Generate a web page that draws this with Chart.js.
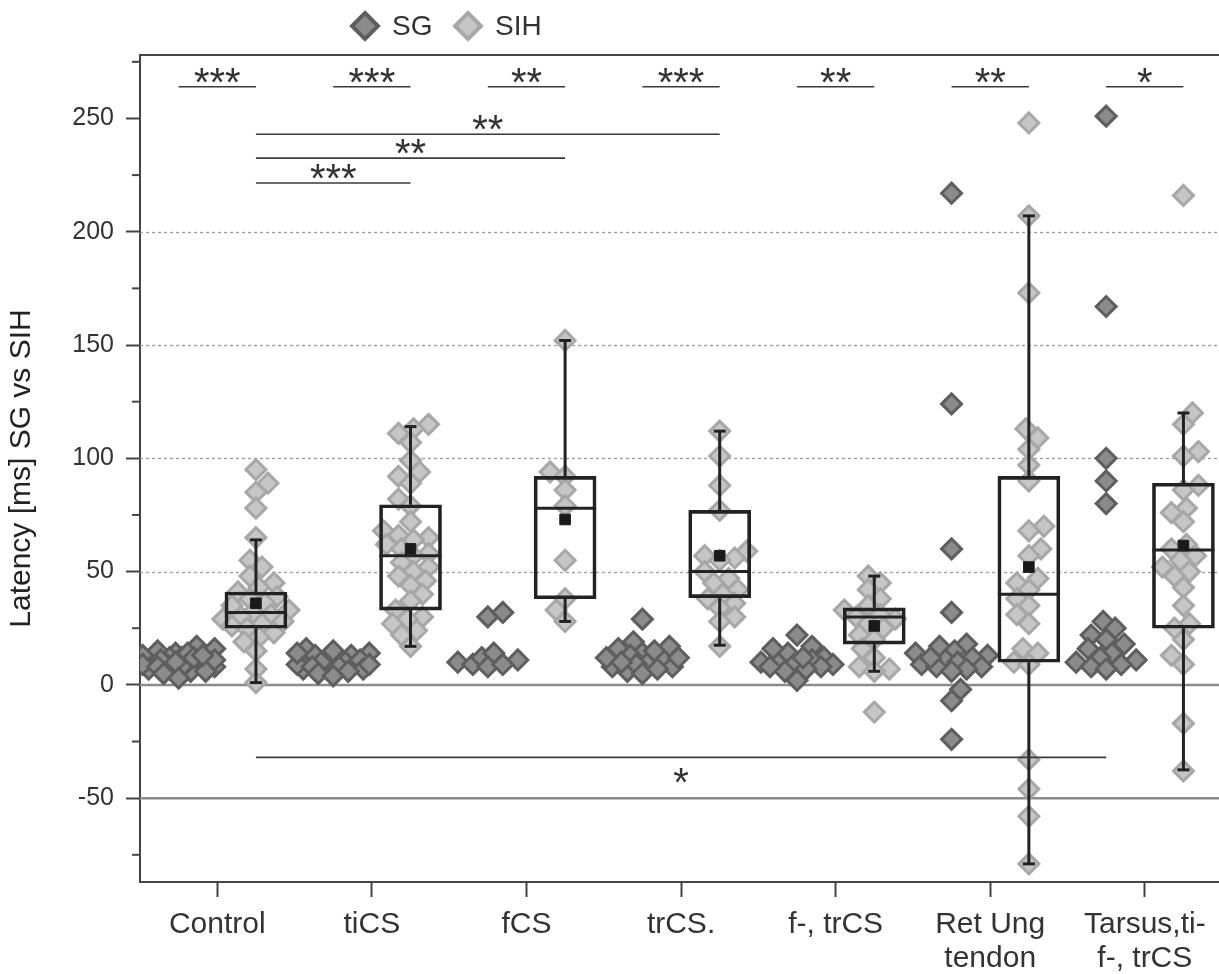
<!DOCTYPE html>
<html>
<head>
<meta charset="utf-8">
<script src="https://cdn.jsdelivr.net/npm/chart.js@4.4.1/dist/chart.umd.min.js"></script>
<style>
html,body{margin:0;padding:0;background:#fff;overflow:hidden;width:1219px;height:974px;}
#wrap{width:1219px;height:974px;position:relative;overflow:hidden;}
canvas{display:block;}
</style>
</head>
<body>
<div id="wrap"><canvas id="c"></canvas></div>
<script>
// ---------- data ----------
const categories = [['Control'], ['tiCS'], ['fCS'], ['trCS.'], ['f-, trCS'], ['Ret Ung', 'tendon'], ['Tarsus,ti-', 'f-, trCS']];
const seriesNames = ['SG', 'SIH'];

const sgControl = [14, 17, 12, 9, 7, 11, 15, 10, 8, 13, 16, 6, 12, 9, 11, 10, 7, 14, 8, 12, 9, 6, 11, 13, 8, 10, 5, 3];
const sgTiCS    = [8, 10, 7, 9, 12, 11, 13, 14, 16, 10, 9, 8, 12, 15, 11, 13, 7, 9, 14, 6, 10, 8, 5, 4];
const sgFCS     = [10, 9, 30, 32, 12, 11, 14, 8, 9];
const sgTrCS    = [8, 12, 19, 29, 16, 14, 10, 6, 17, 13, 9, 11, 15, 8, 5, 12, 10, 7];
const sgFTrCS   = [17, 22, 12, 10, 9, 14, 11, 8, 16, 9, 10, 7, 12, 6, 8, 2];
const sgRetUng  = [217, 124, 60, 32, 18, 17, 15, 14, 13, 12, 11, 10, 9, 8, 8, 7, 6, 12, -2, -7, -24];
const sgTarsus  = [251, 167, 100, 90, 80, 28, 25, 22, 20, 18, 16, 14, 12, 11, 10, 9, 8, 7];

const sihControl = [95, 89, 85, 78, 65, 55, 52, 48, 45, 43, 41, 39, 38, 36, 35, 33, 32, 31, 30, 29, 28, 27, 26, 25, 23, 21, 19, 15, 7, 1];
const sihTiCS    = [115, 113, 111, 107, 99, 94, 92, 89, 82, 79, 72, 68, 66, 65, 64, 62, 60, 58, 57, 54, 52, 50, 48, 46, 44, 40, 37, 33, 30, 29, 27, 24, 22, 17];
const sihFCS     = [152, 94, 92, 86, 79, 55, 38, 33, 28];
const sihTrCS    = [112, 101, 88, 77, 59, 57, 56, 55, 50, 47, 45, 42, 40, 38, 36, 34, 30, 28, 17];
const sihFTrCS   = [48, 45, 42, 38, 35, 33, 31, 30, 29, 27, 25, 22, 20, 16, 12, 8, 7, 6, -12];
const sihRetUng  = [248, 207, 173, 113, 109, 104, 97, 90, 70, 68, 60, 57, 47, 45, 42, 38, 35, 31, 27, 16, 14, 10, 9, -33, -46, -58, -79];
const sihTarsus  = [216, 120, 115, 103, 101, 88, 86, 78, 76, 72, 62, 60, 57, 55, 52, 50, 48, 43, 35, 27, 25, 20, 13, 9, -17, -38];

const sgGroups  = [sgControl, sgTiCS, sgFCS, sgTrCS, sgFTrCS, sgRetUng, sgTarsus];
const sihGroups = [sihControl, sihTiCS, sihFCS, sihTrCS, sihFTrCS, sihRetUng, sihTarsus];

// SIH box plot statistics
const boxQ1       = [25, 33, 38, 38.5, 18, 10, 25];
const boxMedian   = [32, 57, 78, 50, 30, 40, 59.5];
const boxQ3       = [41, 79.5, 92, 77, 34, 92, 89];
const whiskerLow  = [1, 17, 28, 17.5, 6, -79, -37.5];
const whiskerHigh = [64, 114, 152, 112, 48, 207, 120];
const boxMeans    = [36, 60, 73, 57, 26, 52, 61.5];

// significance annotations (x in category units, y in ms)
const sigFrom  = [-0.25, 0.75, 1.75, 2.75, 3.75, 4.75, 5.75, 0.25, 0.25, 0.25, 0.25];
const sigTo    = [0.25, 1.25, 2.25, 3.25, 4.25, 5.25, 6.25, 3.25, 2.25, 1.25, 5.75];
const sigY     = [264, 264, 264, 264, 264, 264, 264, 243, 232.5, 221.5, -32];
const sigLabel = ['***', '***', '**', '***', '**', '**', '*', '**', '**', '***', '*'];
const sigBelow = [false, false, false, false, false, false, false, false, false, false, true];

// y axis ticks / reference lines
const yTicks = [-75, -50, -25, 0, 25, 50, 75, 100, 125, 150, 175, 200, 225, 250, 275];
const yLabelled = [-50, 0, 50, 100, 150, 200, 250];
const dottedGrid = [50, 100, 150, 200];
const solidRefLines = [0, -50];

// ---------- styles ----------
const FONT = '"Liberation Sans", Arial, Helvetica, sans-serif';
const SG_FILL = '#8b8b8b', SG_EDGE = '#5e5e5e';
const SIH_FILL = '#c6c6c6', SIH_EDGE = '#a7a7a7';
const INK = '#222';
const SG_OFF = -0.25, SIH_OFF = 0.25;
const STAR = 40;

Chart.defaults.font.family = FONT;
Chart.defaults.color = '#333';

const sgData = [];
sgGroups.forEach((g, i) => g.forEach(v => sgData.push({x: i + SG_OFF, y: v})));
const sihData = [];
sihGroups.forEach((g, i) => g.forEach(v => sihData.push({x: i + SIH_OFF, y: v})));

function diamond(ctx, x, y, r) {
  ctx.beginPath();
  ctx.moveTo(x, y - r); ctx.lineTo(x + r, y); ctx.lineTo(x, y + r); ctx.lineTo(x - r, y); ctx.closePath();
}

const drawPlugin = {
  id: 'boxExtras',
  beforeDatasetsDraw(chart) {
    const {ctx, chartArea: a, scales: {y}} = chart;
    ctx.save();
    ctx.strokeStyle = '#9a9a9a'; ctx.lineWidth = 1.3; ctx.setLineDash([3, 3]);
    dottedGrid.forEach(v => { const py = Math.round(y.getPixelForValue(v)) + 0.5; ctx.beginPath(); ctx.moveTo(a.left, py); ctx.lineTo(a.right, py); ctx.stroke(); });
    ctx.setLineDash([]);
    ctx.strokeStyle = '#8a8a8a'; ctx.lineWidth = 2.5;
    solidRefLines.forEach(v => { const py = y.getPixelForValue(v); ctx.beginPath(); ctx.moveTo(a.left, py); ctx.lineTo(a.right, py); ctx.stroke(); });
    ctx.strokeStyle = '#444'; ctx.lineWidth = 2;
    ctx.beginPath(); ctx.moveTo(a.left, a.top); ctx.lineTo(a.right, a.top); ctx.stroke();
    yTicks.filter(v => !yLabelled.includes(v)).forEach(v => { const py = y.getPixelForValue(v); ctx.beginPath(); ctx.moveTo(a.left - 8, py); ctx.lineTo(a.left, py); ctx.stroke(); });
    ctx.restore();
  },
  afterDatasetDraw(chart, args) {
    if (args.meta.type !== 'bar') return;
    const {ctx, scales: {x, y}} = chart;
    ctx.save();
    ctx.strokeStyle = INK; ctx.lineWidth = 3;
    args.meta.data.forEach((bar, i) => {
      const cx = x.getPixelForValue(i + SIH_OFF);
      const hw = bar.width / 2;
      const pm = y.getPixelForValue(boxMedian[i]);
      ctx.beginPath(); ctx.moveTo(cx - hw, pm); ctx.lineTo(cx + hw, pm); ctx.stroke();
      [[boxQ3[i], whiskerHigh[i]], [boxQ1[i], whiskerLow[i]]].forEach(([from, to]) => {
        const p1 = y.getPixelForValue(from), p2 = y.getPixelForValue(to);
        ctx.beginPath(); ctx.moveTo(cx, p1); ctx.lineTo(cx, p2); ctx.stroke();
        ctx.beginPath(); ctx.moveTo(cx - 6, p2); ctx.lineTo(cx + 6, p2); ctx.stroke();
      });
    });
    ctx.restore();
  },
  afterDatasetsDraw(chart) {
    const {ctx, scales: {x, y}} = chart;
    ctx.save();
    ctx.strokeStyle = '#3a3a3a'; ctx.fillStyle = '#333'; ctx.lineWidth = 1.6;
    ctx.font = STAR + 'px ' + FONT; ctx.textAlign = 'center'; ctx.textBaseline = 'alphabetic';
    sigFrom.forEach((f, i) => {
      const x1 = x.getPixelForValue(f), x2 = x.getPixelForValue(sigTo[i]);
      const py = y.getPixelForValue(sigY[i]);
      ctx.beginPath(); ctx.moveTo(x1, py); ctx.lineTo(x2, py); ctx.stroke();
      const base = sigBelow[i] ? py + 20 + 0.47 * STAR : py - 10 + 0.47 * STAR;
      ctx.fillText(sigLabel[i], (x1 + x2) / 2, base);
    });
    ctx.restore();
  },
  afterDraw(chart) {
    const {ctx} = chart;
    ctx.save();
    ctx.font = '28px ' + FONT; ctx.textBaseline = 'middle'; ctx.textAlign = 'left';
    const items = [[365, SG_FILL, SG_EDGE, seriesNames[0]], [468, SIH_FILL, SIH_EDGE, seriesNames[1]]];
    items.forEach(([cx, fill, edge, label]) => {
      diamond(ctx, cx, 26, 13);
      ctx.fillStyle = fill; ctx.fill();
      ctx.lineWidth = 4; ctx.strokeStyle = edge; ctx.stroke();
      ctx.fillStyle = '#333';
      ctx.fillText(label, cx + 27, 27);
    });
    ctx.restore();
  }
};

const chart = new Chart(document.getElementById('c'), {
  type: 'scatter',
  data: {
    datasets: [
      {label: 'SG', data: sgData, pointStyle: 'rectRot', pointRadius: 10, pointBorderWidth: 3,
       backgroundColor: SG_FILL, borderColor: SG_EDGE, order: 3},
      {label: 'SIH', data: sihData, pointStyle: 'rectRot', pointRadius: 10, pointBorderWidth: 3,
       backgroundColor: SIH_FILL, borderColor: SIH_EDGE, order: 2},
      {type: 'bar', label: 'box', data: boxQ1.map((q, i) => ({x: i + SIH_OFF, y: [q, boxQ3[i]]})),
       backgroundColor: 'rgba(0,0,0,0)', borderColor: INK, borderWidth: 3, borderSkipped: false,
       barThickness: 62, order: 1},
      {label: 'mean', data: boxMeans.map((m, i) => ({x: i + SIH_OFF, y: m})), pointStyle: 'rect',
       pointRadius: 7.5, pointBorderWidth: 1, backgroundColor: '#1a1a1a', borderColor: '#1a1a1a', order: 0}
    ]
  },
  options: {
    responsive: true, maintainAspectRatio: false, animation: false, devicePixelRatio: 1,
    layout: {autoPadding: false, padding: {top: 55, right: 0, left: 0, bottom: 0}},
    plugins: {legend: {display: false}, tooltip: {enabled: false}},
    events: [],
    scales: {
      x: {
        type: 'linear', position: 'bottom', min: -0.5, max: 6.48, offset: false,
        afterBuildTicks: s => { s.ticks = categories.map((c, i) => ({value: i})); },
        afterFit: s => { s.height = 92; s.paddingLeft = 0; s.paddingRight = 0; },
        ticks: {autoSkip: false, maxRotation: 0, padding: 10, color: '#333',
                font: {size: 30, lineHeight: 1.16},
                callback: (v, i) => categories[i]},
        grid: {offset: false, drawOnChartArea: false, drawTicks: true, tickLength: 15, tickColor: '#444', tickWidth: 2},
        border: {color: '#444', width: 2}
      },
      y: {
        type: 'linear', min: -87, max: 278,
        afterBuildTicks: s => { s.ticks = yTicks.map(v => ({value: v})); },
        afterFit: s => { s.width = 140; },
        ticks: {autoSkip: false, padding: 12, color: '#333', font: {size: 25},
                callback: v => (yLabelled.includes(v) ? String(v) : '')},
        grid: {drawOnChartArea: false, drawTicks: true, tickLength: 14, tickWidth: 2,
               tickColor: c => (c.tick && yLabelled.includes(c.tick.value) ? '#444' : 'rgba(0,0,0,0)')},
        border: {color: '#444', width: 2},
        title: {display: true, text: 'Latency [ms] SG vs SIH', color: '#222', font: {size: 30}, padding: {top: 4, bottom: 0}}
      }
    }
  },
  plugins: [drawPlugin]
});

// beeswarm-style horizontal spreading of the diamonds (layout only)
function swarm(values, maxSpread) {
  const yS = chart.scales.y;
  const py = values.map(v => yS.getPixelForValue(v));
  const idx = values.map((_, i) => i).sort((a, b) => values[a] - values[b]);
  const placed = [], off = new Array(values.length).fill(0);
  const step = 3, minD = 13;
  let flip = 1;
  idx.forEach(i => {
    let bestOff = 0, bestScore = -1;
    const n = Math.floor(maxSpread / step) * 2;
    for (let k = 0; k <= n; k++) {
      const m = Math.ceil(k / 2) * step * (k % 2 ? flip : -flip);
      let dmin = Infinity;
      placed.forEach(p => { const d = Math.hypot(p.x - m, p.y - py[i]); if (d < dmin) dmin = d; });
      if (dmin >= minD) { bestOff = m; bestScore = Infinity; break; }
      if (dmin > bestScore) { bestScore = dmin; bestOff = m; }
    }
    flip = -flip;
    off[i] = bestOff; placed.push({x: bestOff, y: py[i]});
  });
  return off;
}
const xS = chart.scales.x;
const pxPerUnit = xS.getPixelForValue(1) - xS.getPixelForValue(0);
function spread(dataArr, groups, baseOff, maxSpread) {
  let k = 0;
  groups.forEach((g, gi) => {
    const offs = swarm(g, maxSpread);
    offs.forEach(o => { dataArr[k].x = gi + baseOff + o / pxPerUnit; k++; });
  });
}
spread(sgData, sgGroups, SG_OFF, 38);
spread(sihData, sihGroups, SIH_OFF, 34);
chart.update('none');
</script>
</body>
</html>
